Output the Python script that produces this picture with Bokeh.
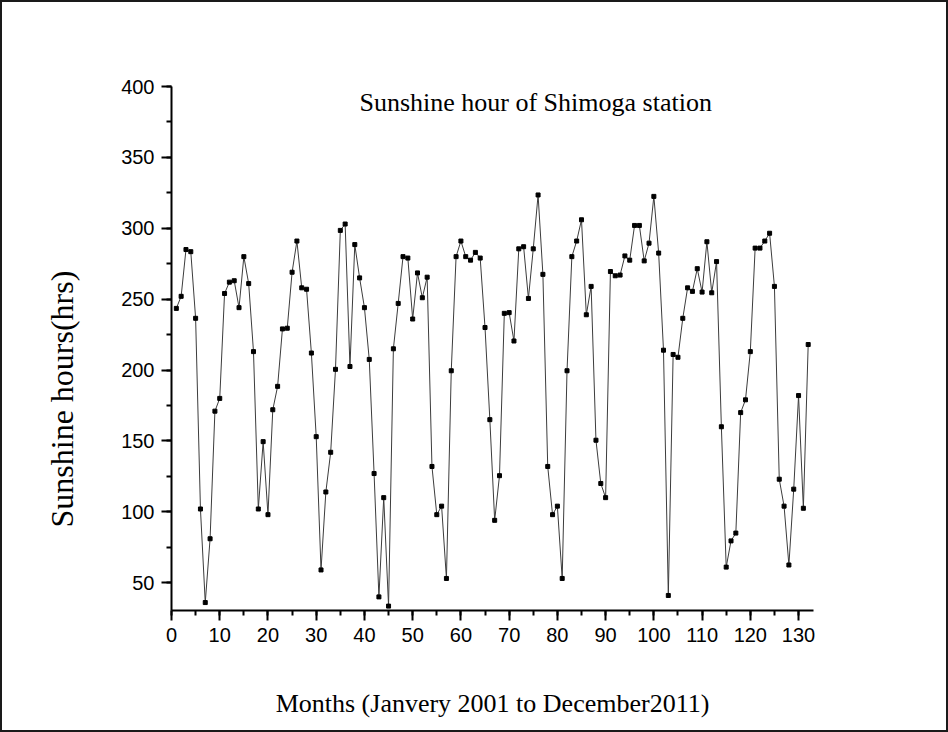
from bokeh.plotting import figure
from bokeh.models import Range1d, SingleIntervalTicker, Label, Title, ColumnDataSource
from bokeh.embed import file_html
from bokeh.resources import INLINE

# Monthly sunshine hours, January 2001 (month 1) to December 2011 (month 132)
months = list(range(1, 133))
sunshine_hours = [
    243.5, 252, 285, 283.5, 236.5, 102, 36, 81, 171, 180, 254, 262,          # 2001
    263, 244, 280, 261, 213, 102, 149.5, 98, 172, 188.5, 229, 229.5,         # 2002
    269, 291, 258, 257, 212, 153, 59, 114, 142, 200.5, 298.5, 303,           # 2003
    202.5, 288.5, 265, 244, 207.5, 127, 40, 110, 33.5, 215, 247, 280,        # 2004
    279, 236, 268.5, 251, 265.5, 132, 98, 104, 53, 199.5, 280, 291,          # 2005
    280, 277.5, 283, 279, 230, 165, 94, 125.5, 240, 240.5, 220.5, 285.5,     # 2006
    287, 250.5, 285.5, 323.5, 267.5, 132, 98, 104, 53, 199.5, 280, 291,      # 2007
    306, 239, 259, 150.5, 120, 110, 269.5, 266.5, 267, 280.5, 277.5, 302,    # 2008
    302, 277, 289.5, 322.5, 282.5, 214, 41, 211, 209, 236.5, 258, 255.5,     # 2009
    271.5, 255, 290.5, 254.5, 276.5, 160, 61, 79.5, 85, 170, 179, 213,       # 2010
    286, 286, 291, 296.5, 259, 123, 104, 62.5, 116, 182, 102.5, 218,         # 2011
]

title_text = "Sunshine hour of Shimoga station"
x_title = "Months (Janvery 2001 to December2011)"
y_title = "Sunshine hours(hrs)"

source = ColumnDataSource(data=dict(month=months, hours=sunshine_hours))

p = figure(
    width=948, height=732,
    output_backend="svg", toolbar_location=None,
    x_range=Range1d(0, 133.1), y_range=Range1d(30.4, 400),
    min_border_left=169, min_border_right=137,
    min_border_top=84, min_border_bottom=124,
)
# thin frame around the whole page
p.styles = {"border": "2px solid #1a1a1a"}
p.outline_line_color = None
p.xgrid.visible = False
p.ygrid.visible = False
p.background_fill_color = "white"
p.border_fill_color = "white"

p.line("month", "hours", source=source, line_color="#3c3c3c", line_width=1)
p.scatter("month", "hours", source=source, marker="square", size=4,
          fill_color="black", line_color="black")

p.xaxis.ticker = SingleIntervalTicker(interval=10, num_minor_ticks=2)
p.yaxis.ticker = SingleIntervalTicker(interval=50, num_minor_ticks=2)

for ax in (p.xaxis[0], p.yaxis[0]):
    ax.axis_line_width = 2
    ax.axis_line_color = "black"
    ax.major_tick_line_width = 2
    ax.minor_tick_line_width = 2
    ax.major_tick_line_color = "black"
    ax.minor_tick_line_color = "black"
    ax.major_tick_in = 0
    ax.major_tick_out = 10
    ax.minor_tick_in = 0
    ax.minor_tick_out = 5
    ax.major_label_text_font = "Liberation Sans"
    ax.major_label_text_font_size = "20px"
    ax.major_label_text_color = "black"
    ax.major_label_standoff = 7

p.xaxis.axis_label = x_title
p.xaxis.axis_label_text_font = "Liberation Serif"
p.xaxis.axis_label_text_font_style = "normal"
p.xaxis.axis_label_text_color = "black"
p.xaxis.axis_label_text_font_size = "26px"
p.xaxis.axis_label_standoff = 44

# vertical axis title, set a little below the middle of the axis
p.add_layout(Title(
    text=y_title, align="left", offset=83, standoff=78,
    text_font="Liberation Serif", text_font_size="32px",
    text_font_style="normal", text_color="black",
), "left")

p.add_layout(Label(
    x=75.5, y=388.7, text=title_text,
    text_font="Liberation Serif", text_font_size="26px",
    text_align="center", text_baseline="middle", text_color="black",
))

open("out.html", "w").write(file_html(p, INLINE))
